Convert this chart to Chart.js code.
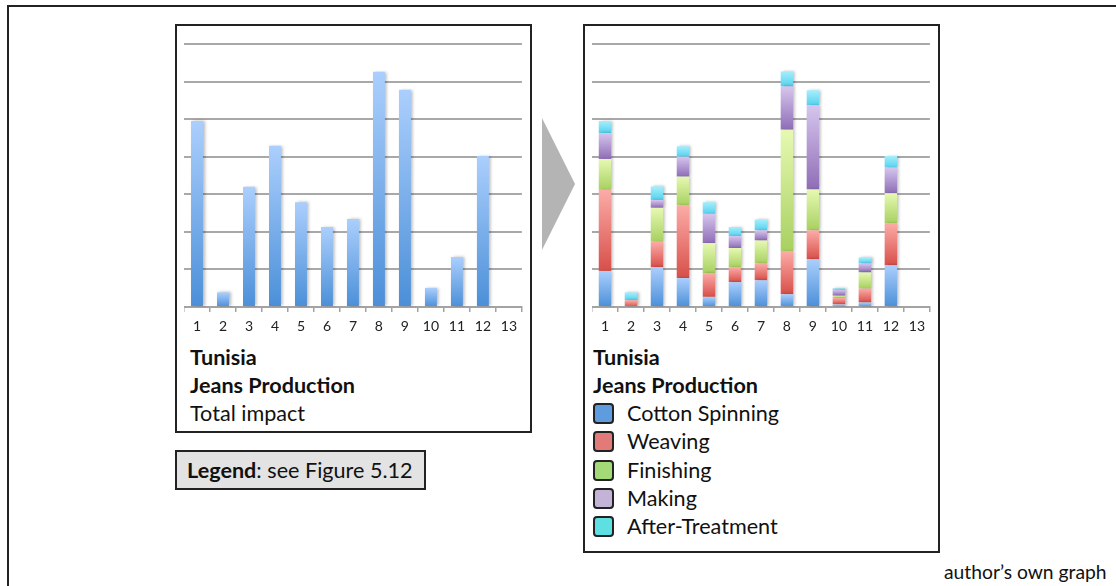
<!DOCTYPE html>
<html>
<head>
<meta charset="utf-8">
<script src="https://cdn.jsdelivr.net/npm/chart.js@4/dist/chart.umd.min.js"></script>
<style>
  html, body { margin: 0; padding: 0; background: #fff; }
  body { width: 1116px; height: 586px; position: relative; overflow: hidden; font-family: 'Lato', 'Open Sans', sans-serif; color: #111; }
  .frame { position: absolute; left: 7px; top: 5px; width: 2000px; height: 2000px; border: 2px solid #222; }
  .box { position: absolute; border: 2px solid #222; background: #fff; box-sizing: border-box; }
  canvas { position: absolute; }
  .txt { position: absolute; font-size: 21.6px; line-height: 28px; white-space: nowrap; }
  .b { font-weight: bold; }
  .arrow { position: absolute; left: 542px; top: 118px; width: 33px; height: 132px; background: #b4b4b4; clip-path: polygon(0 0, 100% 50%, 0 100%); }
  .note { position: absolute; left: 175px; top: 450px; width: 251px; height: 40px; border: 2px solid #222; background: #e3e3e3; box-sizing: border-box; font-size: 21.6px; line-height: 36px; padding-left: 10px; white-space: nowrap; }
  .legend-row { position: absolute; left: 593px; height: 28px; font-size: 21.6px; line-height: 28px; white-space: nowrap; }
  .sw { position: absolute; left: 0; top: 4px; width: 17px; height: 17px; border: 2px solid #222; border-radius: 4px; }
  .legend-row span.lbl { position: absolute; left: 34px; top: 0; }
  .credit { position: absolute; left: 944px; top: 560px; font-size: 19.3px; line-height: 24px; white-space: nowrap; }
</style>
</head>
<body>
<div class="frame"></div>

<div class="box" style="left:175px; top:24px; width:357px; height:409px;"></div>
<div class="box" style="left:583px; top:24px; width:357px; height:529px;"></div>

<canvas id="totalChart" width="339" height="303" style="left:184px; top:40px;"></canvas>
<canvas id="stageChart" width="339" height="303" style="left:592px; top:40px;"></canvas>

<div class="txt b" style="left:190px; top:343px;">Tunisia</div>
<div class="txt b" style="left:190px; top:371px;">Jeans Production</div>
<div class="txt" style="left:190px; top:399px;">Total impact</div>

<div class="txt b" style="left:593px; top:343px;">Tunisia</div>
<div class="txt b" style="left:593px; top:371px;">Jeans Production</div>
<div id="stageLegend"></div>

<div class="arrow"></div>

<div class="note"><span class="b">Legend</span>: see Figure 5.12</div>
<div class="credit">author’s own graph</div>

<script>
// Production steps 1..13
const categories = ['1', '2', '3', '4', '5', '6', '7', '8', '9', '10', '11', '12', '13'];

// Total impact per step
const totalImpact = [4.95, 0.39, 3.20, 4.29, 2.79, 2.13, 2.34, 6.26, 5.78, 0.51, 1.33, 4.02, 0];

// Impact split by production stage
const cottonSpinning = [0.96, 0.00, 1.06, 0.77, 0.27, 0.66, 0.71, 0.34, 1.27, 0.07, 0.12, 1.11, 0];
const weaving        = [2.16, 0.18, 0.68, 1.94, 0.63, 0.40, 0.45, 1.15, 0.77, 0.17, 0.37, 1.12, 0];
const finishing      = [0.82, 0.00, 0.90, 0.76, 0.80, 0.51, 0.61, 3.23, 1.09, 0.06, 0.43, 0.80, 0];
const making         = [0.69, 0.00, 0.21, 0.53, 0.78, 0.32, 0.27, 1.15, 2.24, 0.16, 0.24, 0.68, 0];
const afterTreatment = [0.32, 0.21, 0.36, 0.28, 0.31, 0.24, 0.29, 0.40, 0.40, 0.04, 0.16, 0.31, 0];

const stageNames = ['Cotton Spinning', 'Weaving', 'Finishing', 'Making', 'After-Treatment'];
const stageSeries = [cottonSpinning, weaving, finishing, making, afterTreatment];

// Gradient ends (top, bottom) and flat swatch colour for each stage
const stageShades = [
  { top: '#abcffd', bottom: '#4b8fd8', swatch: '#5f9bdf' },
  { top: '#fcaca8', bottom: '#d84f49', swatch: '#e27a79' },
  { top: '#e6f9b2', bottom: '#a8d061', swatch: '#a4d977' },
  { top: '#d6c6ee', bottom: '#8f6db6', swatch: '#c2b3d7' },
  { top: '#a6eefc', bottom: '#55d2ee', swatch: '#5ee0e3' }
];

Chart.defaults.font.family = "'Lato', 'Open Sans', sans-serif";
Chart.defaults.font.size = 14;
Chart.defaults.color = '#222';

// Vertical gradient for one bar segment, spanning the segment itself
function segmentGradient(ctx, shade, lowValue, highValue) {
  const chart = ctx.chart;
  const yScale = chart.scales.y;
  if (!yScale || !chart.chartArea) return shade.bottom;
  const yTop = yScale.getPixelForValue(highValue);
  const yBot = yScale.getPixelForValue(lowValue);
  if (!isFinite(yTop) || !isFinite(yBot) || Math.abs(yBot - yTop) < 0.5) return shade.bottom;
  const g = chart.ctx.createLinearGradient(0, yTop, 0, yBot);
  g.addColorStop(0, shade.top);
  g.addColorStop(1, shade.bottom);
  return g;
}

// Soft drop shadow to the right of every bar
const barShadow = {
  id: 'barShadow',
  beforeDatasetsDraw(chart) {
    const c = chart.ctx;
    c.save();
    c.shadowColor = 'rgba(0,0,0,0.28)';
    c.shadowBlur = 3;
    c.shadowOffsetX = 2;
    c.shadowOffsetY = 0;
  },
  afterDatasetsDraw(chart) {
    chart.ctx.restore();
  }
};

function axes() {
  return {
    x: {
      stacked: true,
      offset: true,
      grid: { offset: true, drawOnChartArea: false, drawTicks: true, tickLength: 5, color: '#a3a3a3', lineWidth: 1.5 },
      border: { display: true, color: '#a3a3a3', width: 2 },
      ticks: { padding: 6, color: '#222', font: { size: 14 }, maxRotation: 0, autoSkip: false },
      afterFit(scale) { scale.height = 36; }
    },
    y: {
      stacked: true,
      min: 0,
      max: 7,
      ticks: { display: false, stepSize: 1 },
      grid: { color: '#a8a8a8', lineWidth: 2, drawTicks: false },
      border: { display: false },
      afterFit(scale) { scale.width = 0; }
    }
  };
}

const commonOptions = {
  responsive: false,
  animation: false,
  devicePixelRatio: 1,
  layout: { padding: { top: 4, left: 0, right: 0, bottom: 0 } },
  plugins: { legend: { display: false }, title: { display: false }, tooltip: { enabled: false } },
  scales: axes()
};

// Left: total impact
new Chart(document.getElementById('totalChart'), {
  type: 'bar',
  data: {
    labels: categories,
    datasets: [{
      label: 'Total impact',
      data: totalImpact,
      categoryPercentage: 1,
      barPercentage: 0.46,
      borderWidth: 0,
      backgroundColor(ctx) {
        if (ctx.type !== 'data') return stageShades[0].bottom;
        const v = ctx.chart.data.datasets[0].data[ctx.dataIndex] || 0;
        return segmentGradient(ctx, stageShades[0], 0, v);
      }
    }]
  },
  options: commonOptions,
  plugins: [barShadow]
});

// Right: impact stacked by stage
new Chart(document.getElementById('stageChart'), {
  type: 'bar',
  data: {
    labels: categories,
    datasets: stageSeries.map((series, i) => ({
      label: stageNames[i],
      data: series,
      categoryPercentage: 1,
      barPercentage: 0.48,
      borderWidth: 0,
      backgroundColor(ctx) {
        if (ctx.type !== 'data') return stageShades[i].bottom;
        const ds = ctx.chart.data.datasets;
        let low = 0;
        for (let k = 0; k < i; k++) low += ds[k].data[ctx.dataIndex] || 0;
        const high = low + (ds[i].data[ctx.dataIndex] || 0);
        return segmentGradient(ctx, stageShades[i], low, high);
      }
    }))
  },
  options: { ...commonOptions, scales: axes() },
  plugins: [barShadow]
});

// Stage legend under the stacked chart
const legendHost = document.getElementById('stageLegend');
stageNames.forEach((name, i) => {
  const row = document.createElement('div');
  row.className = 'legend-row';
  row.style.top = (399 + i * 28.3) + 'px';
  const sw = document.createElement('span');
  sw.className = 'sw';
  sw.style.background = stageShades[i].swatch;
  const lbl = document.createElement('span');
  lbl.className = 'lbl';
  lbl.textContent = name;
  row.appendChild(sw);
  row.appendChild(lbl);
  legendHost.appendChild(row);
});
</script>
</body>
</html>
